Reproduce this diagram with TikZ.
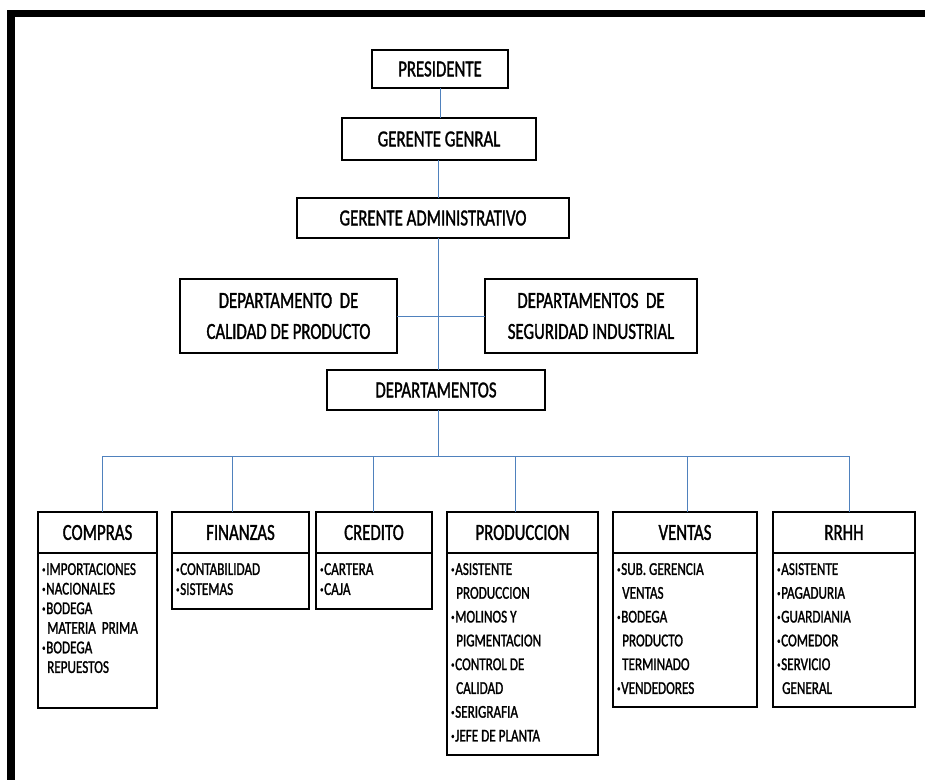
\documentclass[tikz,border=0pt]{standalone}
\usepackage{fontspec}
\setmainfont{Carlito}[FakeStretch=0.73,FakeBold=1.3]
\definecolor{connblue}{RGB}{79,129,189}
\tikzset{
  box/.style={draw=black, line width=1.3pt, fill=white, inner sep=0pt, outer sep=0pt, align=center, font=\fontsize{23}{31}\selectfont},
  hbox/.style={box, minimum height=41pt},
  bbox/.style={draw=black, line width=1.3pt, fill=white, inner sep=0pt, outer sep=0pt},
  conn/.style={draw=connblue, line width=1pt},
  listtext/.style={anchor=north west, inner sep=0pt, align=left},
}
\newcommand{\bul}{\makebox[4pt][l]{\raisebox{2.5pt}{\fontsize{9}{9}\selectfont •}}}
\newcommand{\ind}{\hspace*{5pt}}
\newcommand{\deptbox}[7]{%
  \node[hbox, minimum width=#3pt] (#1h) at (#2,532.5) {#5};
  \node[bbox, minimum width=#3pt, minimum height=#4pt, anchor=north] (#1b) at (#1h.south) {};
  \node[listtext, font=\fontsize{18}{#6}\selectfont] (#1t) at ([xshift=4pt,yshift=-10pt]#1b.north west) {#7};
}
\begin{document}
\begin{tikzpicture}[x=1pt,y=-1pt]
\useasboundingbox (0,0) rectangle (925,780);
\fill[black] (7,10) rectangle (925,17);
\fill[black] (7,10) rectangle (15,780);

\node[box, minimum width=136pt, minimum height=38pt] (pres) at (440,69) {PRESIDENTE};
\node[box, minimum width=194pt, minimum height=42pt] (gg) at (439,139) {GERENTE GENRAL};
\node[box, minimum width=272pt, minimum height=40pt] (ga) at (433,218) {GERENTE ADMINISTRATIVO};
\node[box, minimum width=217pt, minimum height=74pt] (cal) at (288.5,316) {DEPARTAMENTO\ \ DE\\CALIDAD DE PRODUCTO};
\node[box, minimum width=212pt, minimum height=74pt] (seg) at (591,316) {DEPARTAMENTOS\ \ DE\\SEGURIDAD INDUSTRIAL};
\node[box, minimum width=218pt, minimum height=40pt] (dep) at (436,390) {DEPARTAMENTOS};

\deptbox{com}{97.5}{119}{155}{COMPRAS}{19.6}{\bul IMPORTACIONES\\\bul NACIONALES\\\bul BODEGA\\\ind MATERIA\ \ PRIMA\\\bul BODEGA\\\ind REPUESTOS}
\deptbox{fin}{240.5}{137}{56}{FINANZAS}{20}{\bul CONTABILIDAD\\\bul SISTEMAS}
\deptbox{cre}{374}{116}{56}{CREDITO}{20}{\bul CARTERA\\\bul CAJA}
\deptbox{pro}{522.5}{151}{202}{PRODUCCION}{23.8}{\bul ASISTENTE\\\ind PRODUCCION\\\bul MOLINOS Y\\\ind PIGMENTACION\\\bul CONTROL DE\\\ind CALIDAD\\\bul SERIGRAFIA\\\bul JEFE DE PLANTA}
\deptbox{ven}{685}{144}{154}{VENTAS}{23.8}{\bul SUB. GERENCIA\\\ind VENTAS\\\bul BODEGA\\\ind PRODUCTO\\\ind TERMINADO\\\bul VENDEDORES}
\deptbox{rrh}{844}{142}{154}{RRHH}{23.8}{\bul ASISTENTE\\\bul PAGADURIA\\\bul GUARDIANIA\\\bul COMEDOR\\\bul SERVICIO\\\ind GENERAL}

\coordinate (spine) at (438,0);
\coordinate (bl) at (102,456);
\coordinate (br) at (849,456);
\coordinate (k1) at (102,456);
\coordinate (k2) at (232,456);
\coordinate (k3) at (373,456);
\coordinate (k4) at (515,456);
\coordinate (k5) at (687,456);
\coordinate (k6) at (849,456);

\draw[conn] (pres.south) -- (pres.south |- gg.north);
\draw[conn] (spine |- gg.south) -- (spine |- ga.north);
\draw[conn] (spine |- ga.south) -- (spine |- dep.north);
\draw[conn] (cal.east) -- (seg.west);
\draw[conn] (spine |- dep.south) -- (spine |- bl);
\draw[conn] (bl) -- (br);
\draw[conn] (k1) -- (k1 |- comh.north);
\draw[conn] (k2) -- (k2 |- finh.north);
\draw[conn] (k3) -- (k3 |- creh.north);
\draw[conn] (k4) -- (k4 |- proh.north);
\draw[conn] (k5) -- (k5 |- venh.north);
\draw[conn] (k6) -- (k6 |- rrhh.north);
\end{tikzpicture}
\end{document}
